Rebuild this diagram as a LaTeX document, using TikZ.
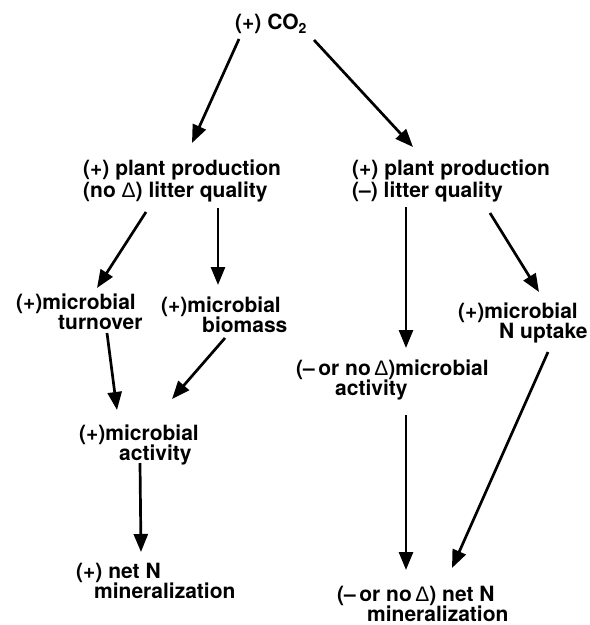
\documentclass[tikz,border=0pt]{standalone}
\usepackage{fontspec}
\setmainfont{TeX Gyre Heros}
\newfontfamily\dfont{Liberation Sans}
\usetikzlibrary{arrows.meta,calc}
\newcommand{\dlt}{{\dfont\mdseries\char"0394}}
\tikzset{
  lbl/.style={anchor=base west, inner sep=0pt, align=left,
    font=\fontsize{21}{20}\selectfont\bfseries},
  arr/.style={line width=2.7pt, -{Triangle[length=18pt,width=14pt]}}
}
\begin{document}
\begin{tikzpicture}[x=1pt,y=-1pt]
\fill[white] (0,0) rectangle (590,625);
\useasboundingbox (0,0) rectangle (590,625);
% multi-line nodes: base west = baseline of last line
\node[lbl] (co2) at (235,29) {(+) CO\raisebox{-4pt}{\fontsize{14}{14}\selectfont 2}};
\node[lbl] (lp) at (83,197) {(+) plant production\\(no \dlt) litter quality};
\node[lbl] (rp) at (352,197) {(+) plant production\\(--) litter quality};
\node[lbl] (turn) at (16,329) {(+)microbial\\\hspace*{42pt}turnover};
\node[lbl] (bio) at (161,332) {(+)microbial\\\hspace*{41pt}biomass};
\node[lbl] (act) at (79,460) {(+)microbial\\\hspace*{40pt}activity};
\node[lbl] (netl) at (76,598) {(+) net N\\\hspace*{18pt}mineralization};
\node[lbl] (ract) at (296,395) {(--\,or no\,\dlt)microbial\\\hspace*{39pt}activity};
\node[lbl] (upt) at (458,338) {(+)microbial\\\hspace*{41pt}N uptake};
\node[lbl] (netr) at (337,621) {(--\,or no\,\dlt) net N\\\hspace*{30pt}mineralization};
\draw[arr] ($(co2.base west)+(4,10)$) -- ($(lp.base west)+(109,-54)$);
\draw[arr] ($(co2.base west)+(79,11)$) -- ($(rp.base west)+(61,-50)$);
\draw[arr] ($(lp.base west)+(63,15)$) -- ($(turn.base west)+(81,-41)$);
\draw[arr] ($(lp.base west)+(135,11)$) -- ($(bio.base west)+(57,-47)$);
\draw[arr] ($(turn.base west)+(91,4)$) -- ($(act.base west)+(38,-50)$);
\draw[arr] ($(bio.base west)+(64,6)$) -- ($(act.base west)+(93,-61)$);
\draw[arr] ($(act.base west)+(61,3)$) -- ($(netl.base west)+(65,-46)$);
\draw[arr] ($(rp.base west)+(54,10)$) -- ($(ract.base west)+(110,-47)$);
\draw[arr] ($(rp.base west)+(138,16)$) -- ($(upt.base west)+(81,-46)$);
\draw[arr] ($(ract.base west)+(110,20)$) -- ($(netr.base west)+(69,-51)$);
\draw[arr] ($(upt.base west)+(90,14)$) -- ($(netr.base west)+(115,-53)$);
\end{tikzpicture}
\end{document}
